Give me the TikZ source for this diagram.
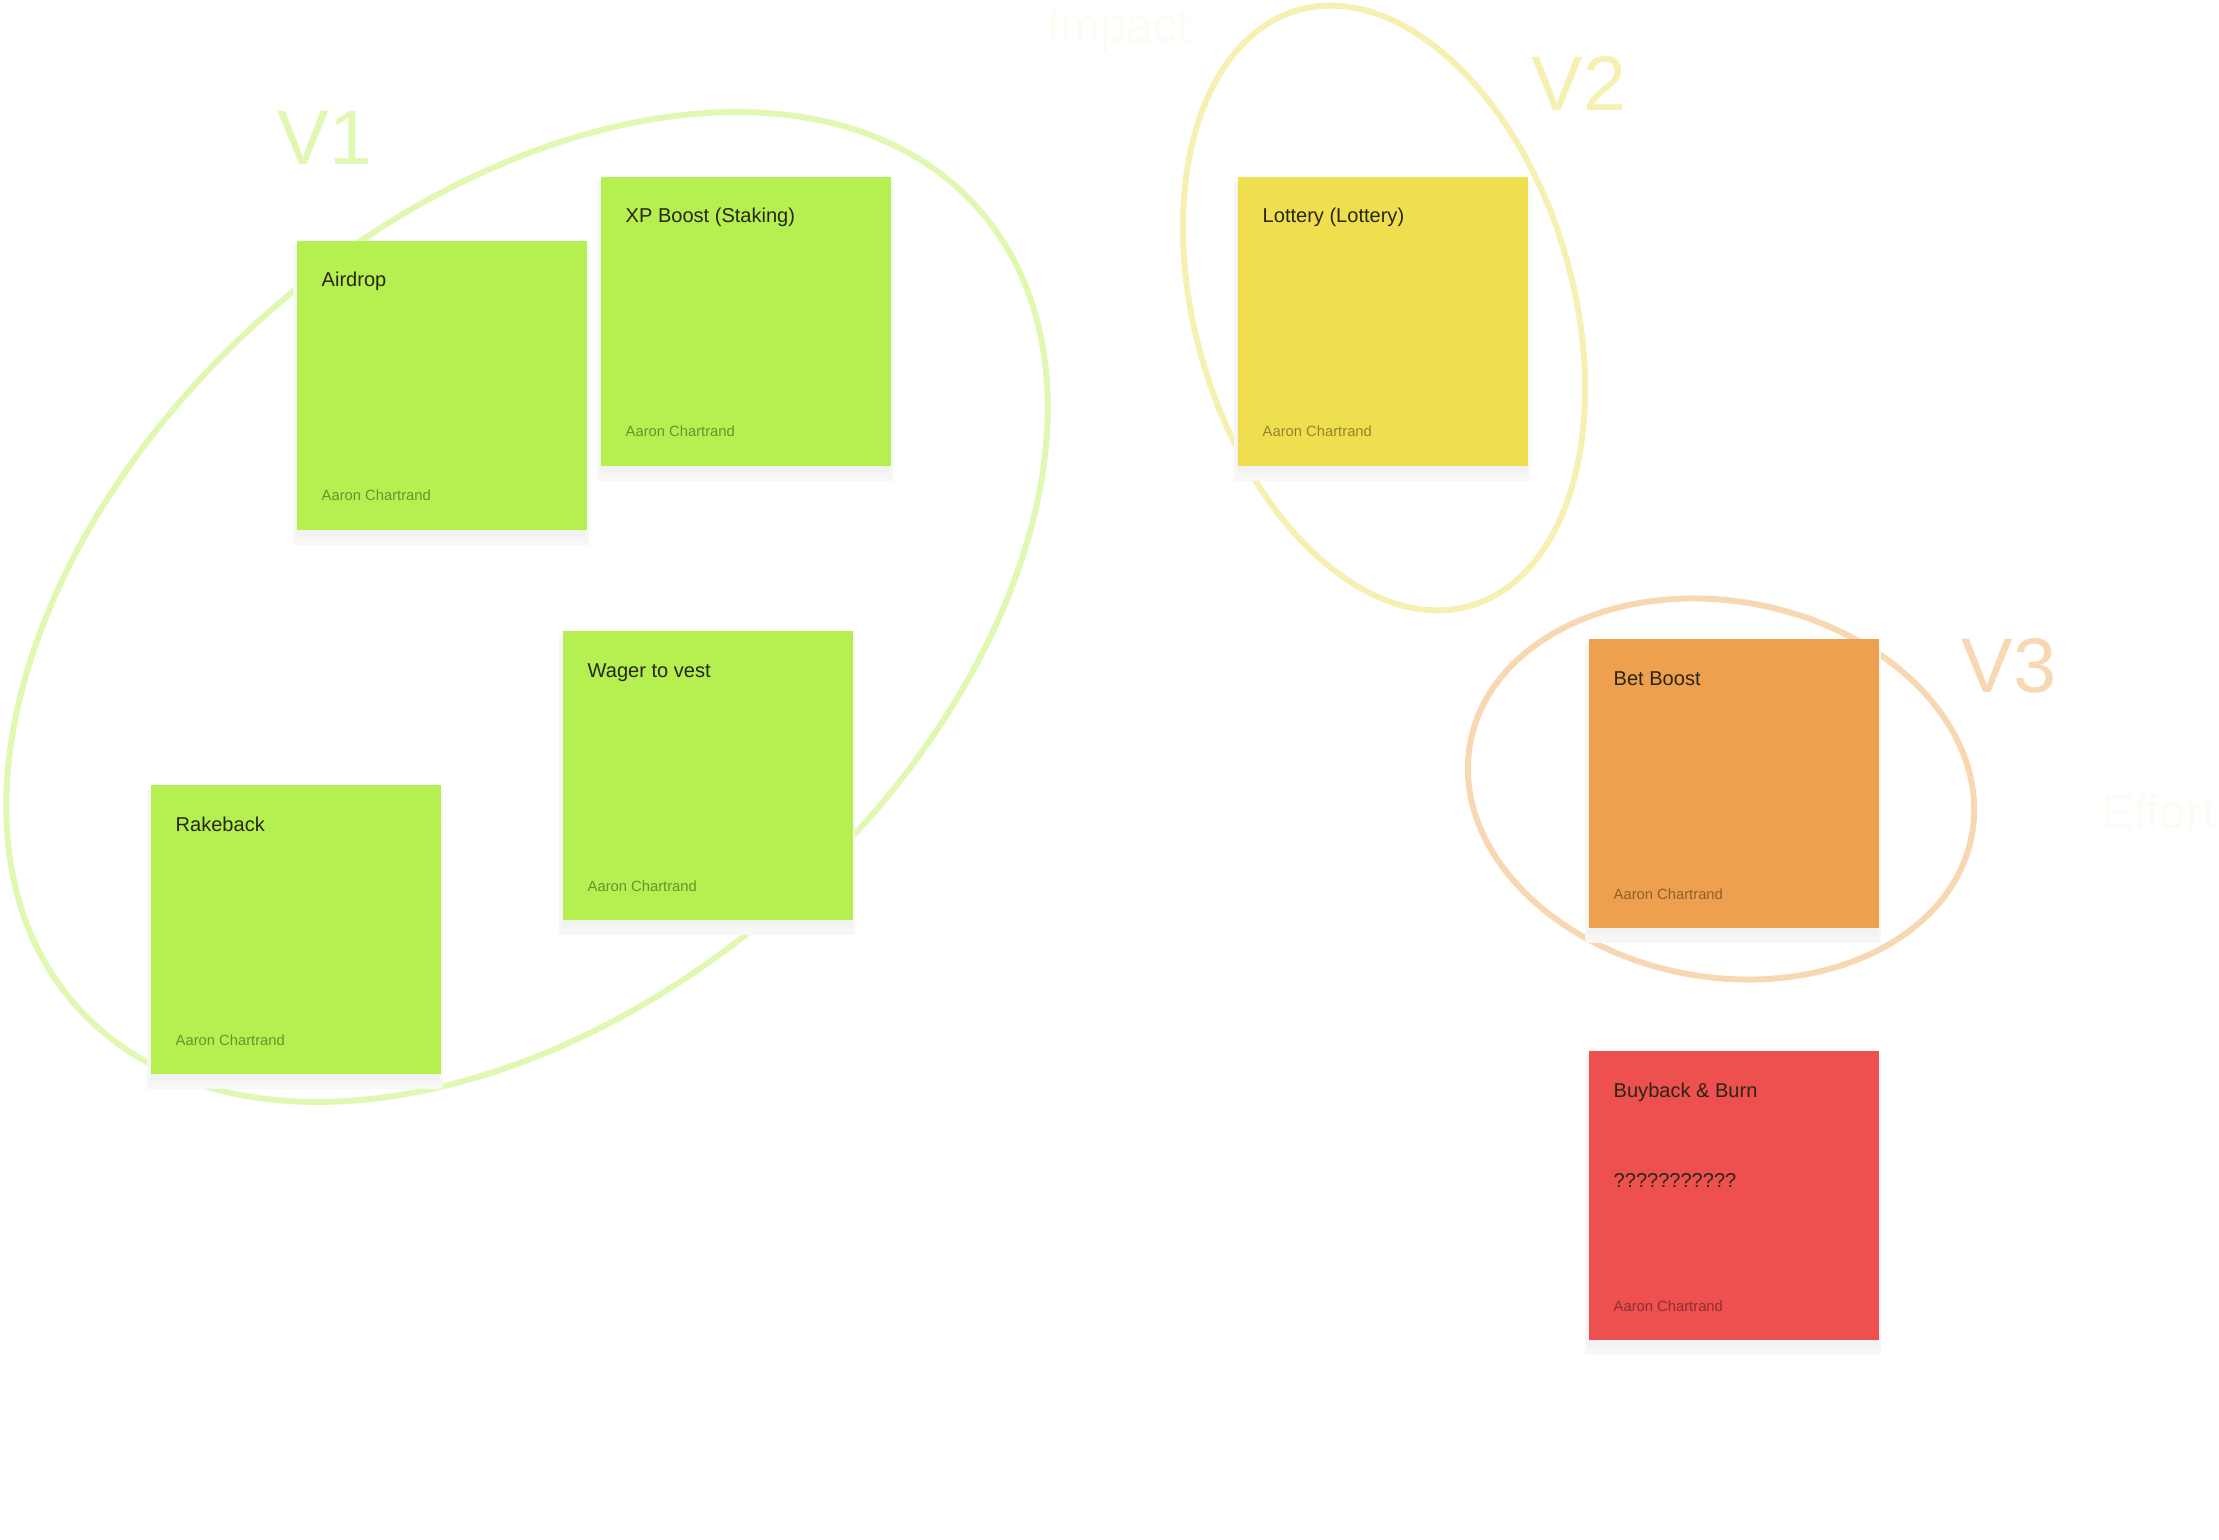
\documentclass[tikz,border=0pt]{standalone}
\usepackage{fontspec}
\setmainfont{Liberation Sans}
\usetikzlibrary{calc}

\definecolor{grnote}{RGB}{181,240,80}
\definecolor{ylnote}{RGB}{239,223,78}
\definecolor{ornote}{RGB}{238,160,78}
\definecolor{rdnote}{RGB}{238,79,79}
\definecolor{ink}{RGB}{40,38,20}
\definecolor{vonecol}{RGB}{224,248,178}
\definecolor{vtwocol}{RGB}{246,240,178}
\definecolor{vthreecol}{RGB}{248,216,178}
\definecolor{faint}{RGB}{252,252,244}

\tikzset{
  sticky/.style={minimum width=2.9cm, minimum height=2.89cm, inner sep=0pt, anchor=north west},
  notetitle/.style={anchor=base west, inner sep=0pt, text=ink, font=\fontsize{5.7}{7}\selectfont},
  noteauthor/.style={anchor=base west, inner sep=0pt, font=\fontsize{4.2}{5}\selectfont},
  group/.style={line width=1.7pt},
  vlabel/.style={anchor=base west, inner sep=0pt, font=\fontsize{22}{26}\selectfont},
  axislabel/.style={anchor=base west, inner sep=0pt, text=faint, font=\fontsize{13.5}{15}\selectfont}
}

\begin{document}
\begin{tikzpicture}[x=0.01cm, y=-0.01cm]
\useasboundingbox (0,0) rectangle (2219,1540);

% faint axes
\draw[faint, dash pattern=on 0.6pt off 8pt] (1108,110) -- (1108,1530);
\draw[faint, dash pattern=on 0.6pt off 8pt] (20,823) -- (2090,823);
\node[axislabel] (impact) at (1047,43) {Impact};
\node[axislabel] (effort) at (2102,828) {Effort};

% groups
\draw[group, vonecol, rotate around={41.4:(527,607)}] (527,607) ellipse [x radius=602, y radius=392];
\draw[group, vtwocol, rotate around={106.2:(1384,308)}] (1384,308) ellipse [x radius=310, y radius=189];
\draw[group, vthreecol, rotate around={-10.3:(1721,789)}] (1721,789) ellipse [x radius=255, y radius=188];
\node[vlabel, text=vonecol] (vone) at (277,165) {V1};
\node[vlabel, text=vtwocol] (vtwo) at (1531,111) {V2};
\node[vlabel, text=vthreecol] (vthree) at (1961,692) {V3};

% notes
\foreach \nm/\x/\y/\col/\txt in {
  air/296/240/grnote/Airdrop,
  xp/600/176/grnote/XP Boost (Staking),
  wager/562/630/grnote/Wager to vest,
  rake/150/784/grnote/Rakeback,
  lot/1237/176/ylnote/Lottery (Lottery),
  bet/1588/638/ornote/Bet Boost,
  bub/1588/1050/rdnote/Buyback \& Burn}
{
  \fill[black!3] (\x-3,\y+6) rectangle ++(296,299);
  \fill[black!5] (\x,\y+5) rectangle ++(290,292);
  \node[sticky, fill=\col] (\nm) at (\x,\y) {};
  \node[notetitle] (\nm-t) at ($(\nm.north west)+(25,47)$) {\txt};
  \node[noteauthor, text=\col!60!black] (\nm-a) at ($(\nm.north west)+(25,261)$) {Aaron Chartrand};
}
\node[notetitle] (bub-q) at ($(bub.north west)+(25,137)$) {???????????};

\end{tikzpicture}
\end{document}
